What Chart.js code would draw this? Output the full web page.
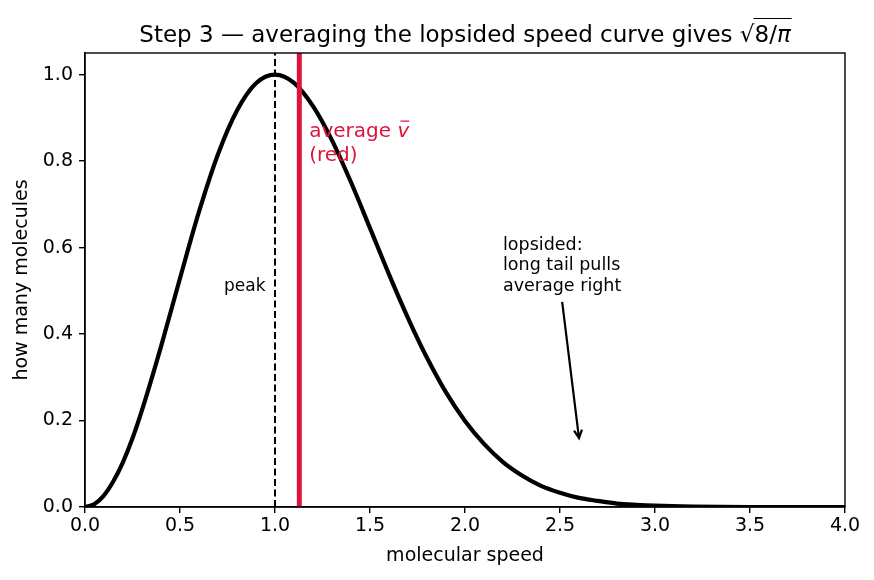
<!DOCTYPE html>
<html>
<head>
<meta charset="utf-8">
<script src="https://cdn.jsdelivr.net/npm/chart.js@4.4.1/dist/chart.umd.min.js"></script>
<style>
  html, body { margin: 0; padding: 0; background: #fff; }
  #wrap { width: 874px; height: 580px; }
</style>
</head>
<body>
<div id="wrap"><canvas id="c" width="874" height="580"></canvas></div>
<script>
// ---- data ----
const speeds = [0, 0.05, 0.1, 0.15, 0.2, 0.25, 0.3, 0.4, 0.5, 0.6, 0.7, 0.8, 0.9, 1.0, 1.1, 1.2, 1.3, 1.4, 1.5, 1.6, 1.7, 1.8, 1.9, 2.0, 2.1, 2.2, 2.3, 2.4, 2.5, 2.6, 2.7, 2.8, 2.9, 3.0, 3.2, 3.5, 4.0];
const counts = [0, 0.007, 0.027, 0.060, 0.104, 0.159, 0.224, 0.371, 0.529, 0.683, 0.816, 0.917, 0.980, 1.000, 0.981, 0.927, 0.848, 0.751, 0.645, 0.538, 0.437, 0.345, 0.265, 0.199, 0.146, 0.104, 0.073, 0.049, 0.033, 0.021, 0.014, 0.008, 0.005, 0.003, 0.001, 0.0, 0.0];
const peakSpeed = 1.0;
const meanSpeed = 1.128;
const xTicks = [0, 0.5, 1.0, 1.5, 2.0, 2.5, 3.0, 3.5, 4.0];
const yTicks = [0, 0.2, 0.4, 0.6, 0.8, 1.0];
const xRange = [0, 4];
const yRange = [0, 1.05];
const titleMain = 'Step 3 \u2014 averaging the lopsided speed curve gives ';
const xLabel = 'molecular speed';
const yLabel = 'how many molecules';
const peakNote = { x: 0.95, y: 0.5, text: 'peak' };
const meanNote = { x: 1.18, y: 0.8, lines: ['average ', '(red)'] };
const tailNote = { x: 2.2, y: 0.5, lines: ['lopsided:', 'long tail pulls', 'average right'], arrowTo: [2.6, 0.15] };

const FONT = "'DejaVu Sans', sans-serif";
const CRIMSON = '#DC143C';

const curve = speeds.map((s, i) => ({ x: s, y: counts[i] }));
const peakLine = [{ x: peakSpeed, y: yRange[0] }, { x: peakSpeed, y: yRange[1] }];
const meanLine = [{ x: meanSpeed, y: yRange[0] }, { x: meanSpeed, y: yRange[1] }];

const overlay = {
  id: 'overlay',
  afterDraw(chart) {
    const ctx = chart.ctx;
    const a = chart.chartArea;
    const xs = chart.scales.x, ys = chart.scales.y;
    ctx.save();
    // spines
    ctx.strokeStyle = '#000';
    ctx.lineWidth = 1.4;
    ctx.strokeRect(a.left, a.top, a.right - a.left, a.bottom - a.top);

    // title
    ctx.fillStyle = '#000';
    ctx.textBaseline = 'alphabetic';
    const tf = '23px ' + FONT;
    const tfi = 'italic 23px ' + FONT;
    ctx.font = tf;
    const wMain = ctx.measureText(titleMain).width;
    const wRad = ctx.measureText('\u221A').width;
    const w8 = ctx.measureText('8/').width;
    ctx.font = tfi;
    const wPi = ctx.measureText('\u03C0').width;
    const total = wMain + wRad + w8 + wPi;
    let tx = (a.left + a.right) / 2 - total / 2;
    const ty = 42;
    ctx.font = tf;
    ctx.textAlign = 'left';
    ctx.fillText(titleMain, tx, ty);
    tx += wMain;
    ctx.fillText('\u221A', tx, ty);
    const barStart = tx + wRad - 1;
    tx += wRad;
    ctx.fillText('8/', tx, ty);
    tx += w8;
    ctx.font = tfi;
    ctx.fillText('\u03C0', tx, ty);
    tx += wPi;
    ctx.lineWidth = 1.2;
    ctx.beginPath();
    ctx.moveTo(barStart, ty - 23.5);
    ctx.lineTo(tx + 1, ty - 23.5);
    ctx.stroke();

    // peak note
    ctx.font = '17px ' + FONT;
    ctx.textAlign = 'right';
    ctx.fillText(peakNote.text, xs.getPixelForValue(peakNote.x), ys.getPixelForValue(peakNote.y));

    // mean note
    ctx.fillStyle = CRIMSON;
    ctx.strokeStyle = CRIMSON;
    ctx.textAlign = 'left';
    const mx = xs.getPixelForValue(meanNote.x);
    const my = ys.getPixelForValue(meanNote.y);
    const mls = 24;
    ctx.font = '20px ' + FONT;
    ctx.fillText(meanNote.lines[0], mx, my - mls);
    const wAvg = ctx.measureText(meanNote.lines[0]).width;
    ctx.font = 'italic 20px ' + FONT;
    ctx.fillText('v', mx + wAvg, my - mls);
    const wv = ctx.measureText('v').width;
    ctx.lineWidth = 1.2;
    ctx.beginPath();
    ctx.moveTo(mx + wAvg + 3, my - mls - 16);
    ctx.lineTo(mx + wAvg + wv, my - mls - 16);
    ctx.stroke();
    ctx.font = '20px ' + FONT;
    ctx.fillText(meanNote.lines[1], mx, my);

    // tail note
    ctx.fillStyle = '#000';
    ctx.strokeStyle = '#000';
    ctx.font = '17.5px ' + FONT;
    const lx = xs.getPixelForValue(tailNote.x);
    const ly = ys.getPixelForValue(tailNote.y);
    const lls = 20.5;
    const n = tailNote.lines.length;
    let maxW = 0;
    tailNote.lines.forEach((t, i) => {
      ctx.fillText(t, lx, ly - (n - 1 - i) * lls);
      maxW = Math.max(maxW, ctx.measureText(t).width);
    });
    // arrow
    const sx = lx + maxW / 2, sy = ly + 11;
    const ex = xs.getPixelForValue(tailNote.arrowTo[0]);
    const ey = ys.getPixelForValue(tailNote.arrowTo[1]) - 4;
    ctx.lineWidth = 2.2;
    ctx.lineCap = 'butt';
    ctx.beginPath();
    ctx.moveTo(sx, sy);
    ctx.lineTo(ex, ey);
    const ang = Math.atan2(ey - sy, ex - sx);
    const hl = 8, hw = 4;
    const bx = ex - hl * Math.cos(ang), by = ey - hl * Math.sin(ang);
    ctx.moveTo(bx + hw * Math.sin(ang), by - hw * Math.cos(ang));
    ctx.lineTo(ex, ey);
    ctx.lineTo(bx - hw * Math.sin(ang), by + hw * Math.cos(ang));
    ctx.stroke();
    ctx.restore();
  }
};

new Chart(document.getElementById('c'), {
  type: 'line',
  data: {
    datasets: [
      { data: meanLine, borderColor: CRIMSON, borderWidth: 5, pointRadius: 0, order: 0 },
      { data: curve, borderColor: '#000', borderWidth: 4.2, pointRadius: 0, cubicInterpolationMode: 'monotone', order: 1 },
      { data: peakLine, borderColor: '#000', borderWidth: 2, borderDash: [7, 3.5], pointRadius: 0, order: 2 }
    ]
  },
  options: {
    responsive: false,
    animation: false,
    devicePixelRatio: 1,
    parsing: true,
    layout: { padding: { top: 53, right: 29, left: 0, bottom: 0 } },
    plugins: { legend: { display: false }, tooltip: { enabled: false }, title: { display: false } },
    scales: {
      x: {
        type: 'linear', min: xRange[0], max: xRange[1],
        afterFit(s) { s.height = 73; },
        afterBuildTicks(s) { s.ticks = xTicks.map(v => ({ value: v })); },
        grid: { drawOnChartArea: false, drawTicks: true, tickLength: 6, color: '#000', lineWidth: 1.4 },
        border: { display: true, color: '#000', width: 1.4 },
        ticks: { color: '#000', padding: 2, maxRotation: 0, font: { family: FONT, size: 19 }, callback: v => Number(v).toFixed(1) },
        title: { display: true, text: xLabel, color: '#000', font: { family: FONT, size: 19 }, padding: { top: 0, bottom: 13 } }
      },
      y: {
        type: 'linear', min: yRange[0], max: yRange[1],
        afterFit(s) { s.width = 85; },
        afterBuildTicks(s) { s.ticks = yTicks.map(v => ({ value: v })); },
        grid: { drawOnChartArea: false, drawTicks: true, tickLength: 6, color: '#000', lineWidth: 1.4 },
        border: { display: true, color: '#000', width: 1.4 },
        ticks: { color: '#000', padding: 6, font: { family: FONT, size: 19 }, callback: v => Number(v).toFixed(1) },
        title: { display: true, text: yLabel, color: '#000', font: { family: FONT, size: 19 }, padding: { top: 11, bottom: 0 } }
      }
    }
  },
  plugins: [overlay]
});
</script>
</body>
</html>
